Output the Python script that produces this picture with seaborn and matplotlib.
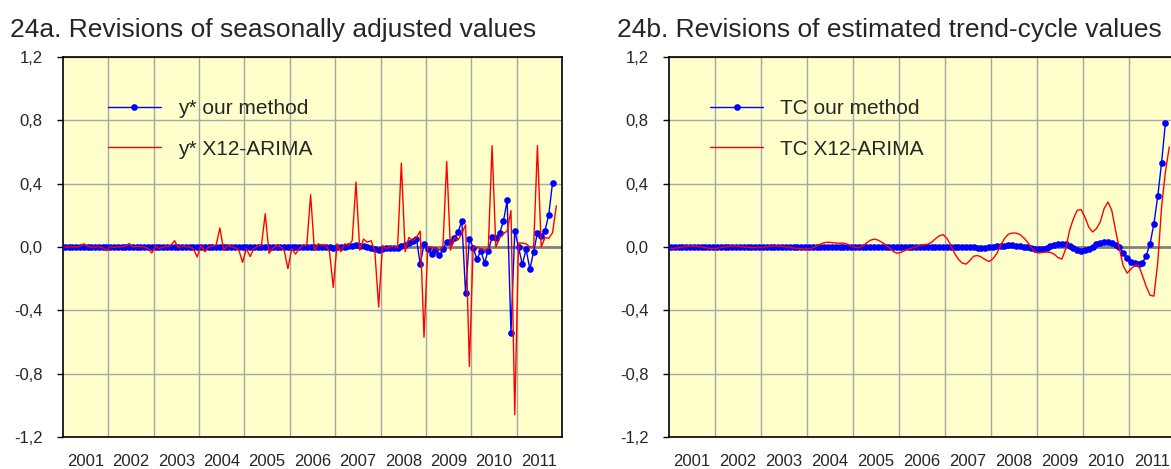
import numpy as np
import matplotlib
matplotlib.use("Agg")
import matplotlib.pyplot as plt
import seaborn as sns

# monthly revisions from Jan 2001 (one row per year)
sa_our = [
    0.000, 0.001, 0.000, -0.001, 0.000, 0.002, 0.001, 0.000, -0.001, 0.000, 0.001, 0.000,
    0.000, -0.001, 0.000, 0.001, 0.001, 0.002, 0.000, -0.001, 0.000, 0.000, 0.001, -0.001,
    0.000, 0.000, 0.001, 0.000, 0.001, 0.002, 0.000, 0.000, -0.001, 0.000, 0.000, -0.001,
    0.000, -0.001, 0.000, 0.001, 0.000, 0.002, 0.001, 0.000, 0.000, -0.001, 0.000, -0.002,
    0.000, -0.001, 0.000, 0.000, 0.001, 0.003, 0.000, -0.001, 0.000, 0.000, 0.001, -0.002,
    0.000, -0.002, 0.000, 0.001, 0.001, 0.003, 0.001, 0.000, 0.000, -0.001, -0.002, -0.004,
    -0.002, 0.000, 0.003, 0.005, 0.007, 0.010, 0.009, 0.007, 0.002, -0.006, -0.012, -0.016,
    -0.010, -0.008, -0.006, -0.006, -0.004, 0.004, 0.012, 0.025, 0.038, 0.052, -0.110, 0.020,
    -0.013, -0.045, -0.017, -0.053, -0.015, 0.030, 0.030, 0.056, 0.094, 0.164, -0.293, 0.052,
    -0.004, -0.078, -0.023, -0.099, -0.023, 0.061, 0.056, 0.088, 0.162, 0.295, -0.543, 0.100,
    0.000, -0.110, -0.015, -0.140, -0.030, 0.090, 0.067, 0.103, 0.204, 0.406,
]
sa_x12 = [
    0.000, 0.000, 0.002, 0.000, 0.004, 0.020, 0.004, 0.000, 0.000, 0.002, -0.004, -0.023,
    0.004, -0.003, 0.000, 0.002, 0.006, 0.022, 0.000, 0.004, 0.002, 0.000, -0.008, -0.038,
    0.006, -0.010, 0.000, 0.004, 0.008, 0.040, -0.004, 0.006, 0.002, 0.000, -0.012, -0.063,
    0.010, -0.030, 0.000, 0.006, 0.010, 0.120, -0.020, 0.010, 0.004, -0.006, -0.018, -0.097,
    -0.010, -0.060, -0.010, 0.006, 0.012, 0.210, -0.040, -0.010, 0.010, 0.004, -0.020, -0.137,
    -0.010, -0.045, -0.010, 0.010, 0.012, 0.330, -0.020, 0.020, 0.010, 0.014, -0.030, -0.255,
    0.020, -0.030, 0.020, 0.010, 0.040, 0.410, -0.020, 0.050, 0.030, 0.040, -0.030, -0.379,
    0.010, -0.010, 0.000, 0.005, -0.005, 0.530, -0.030, 0.060, 0.040, 0.060, 0.100, -0.570,
    0.000, 0.000, -0.010, -0.020, 0.000, 0.540, -0.020, 0.060, 0.045, 0.085, 0.140, -0.754,
    0.000, 0.000, -0.010, -0.020, -0.010, 0.640, 0.000, 0.055, 0.085, 0.100, 0.230, -1.059,
    0.025, 0.025, 0.020, 0.000, 0.000, 0.640, 0.000, 0.060, 0.055, 0.090, 0.260,
]
tc_our = [
    0.000, 0.000, 0.000, 0.000, 0.000, 0.000, 0.000, 0.000, 0.000, 0.000, 0.000, 0.000,
    0.000, 0.000, 0.000, 0.000, 0.000, 0.000, 0.000, 0.000, 0.000, 0.000, 0.000, 0.000,
    0.000, 0.000, 0.000, 0.000, 0.000, 0.000, 0.000, 0.000, 0.000, 0.000, 0.000, 0.000,
    0.000, 0.000, 0.000, 0.000, 0.000, 0.000, 0.000, 0.000, 0.000, 0.000, 0.000, 0.000,
    0.000, 0.000, 0.000, 0.000, 0.000, 0.000, 0.000, 0.000, 0.000, 0.000, 0.000, 0.000,
    0.000, 0.000, 0.000, 0.000, 0.000, 0.000, 0.000, 0.000, 0.000, 0.000, 0.000, 0.000,
    0.000, 0.001, 0.002, 0.003, 0.003, 0.002, 0.000, -0.002, -0.004, -0.005, -0.005, -0.003,
    0.000, 0.004, 0.007, 0.009, 0.010, 0.010, 0.009, 0.006, 0.002, -0.003, -0.008, -0.012,
    -0.014, -0.012, -0.006, 0.004, 0.014, 0.020, 0.022, 0.018, 0.008, -0.006, -0.018, -0.024,
    -0.022, -0.012, 0.002, 0.016, 0.026, 0.031, 0.030, 0.024, 0.014, 0.000, -0.038, -0.067,
    -0.093, -0.100, -0.105, -0.100, -0.055, 0.021, 0.147, 0.320, 0.533, 0.783,
]
tc_x12 = [
    -0.010, -0.008, -0.004, 0.000, 0.004, 0.006, 0.006, 0.004, 0.000, -0.004, -0.008, -0.010,
    -0.008, -0.004, 0.000, 0.004, 0.006, 0.006, 0.004, 0.000, -0.002, -0.004, -0.004, -0.002,
    0.000, 0.002, 0.004, 0.006, 0.006, 0.004, 0.000, -0.003, -0.006, -0.009, -0.011, -0.012,
    -0.012, -0.006, 0.006, 0.018, 0.027, 0.030, 0.028, 0.025, 0.024, 0.025, 0.018, 0.006,
    -0.003, -0.005, 0.005, 0.025, 0.042, 0.050, 0.044, 0.030, 0.014, -0.005, -0.028, -0.040,
    -0.034, -0.022, -0.012, -0.006, 0.002, 0.010, 0.015, 0.017, 0.030, 0.052, 0.070, 0.078,
    0.055, 0.012, -0.040, -0.078, -0.102, -0.108, -0.085, -0.058, -0.054, -0.064, -0.080, -0.092,
    -0.075, -0.042, 0.010, 0.053, 0.080, 0.088, 0.088, 0.080, 0.059, 0.032, 0.000, -0.032,
    -0.038, -0.034, -0.032, -0.034, -0.046, -0.067, -0.076, -0.011, 0.105, 0.179, 0.232, 0.236,
    0.189, 0.126, 0.095, 0.116, 0.158, 0.242, 0.284, 0.232, 0.105, -0.011, -0.120, -0.165,
    -0.140, -0.115, -0.115, -0.180, -0.250, -0.305, -0.310, -0.100, 0.253, 0.474, 0.632,
]
years = list(range(2001, 2012))
yticks = [-1.2, -0.8, -0.4, 0.0, 0.4, 0.8, 1.2]
ytick_labels = ["-1,2", "-0,8", "-0,4", "0,0", "0,4", "0,8", "1,2"]

sns.set_style("ticks")
plt.rcParams["font.family"] = ["Liberation Sans Narrow", "Liberation Sans", "DejaVu Sans"]

W, H = 1171, 469
fig = plt.figure(figsize=(W / 100, H / 100), dpi=100)
ax1 = fig.add_axes([63 / W, 32 / H, 499 / W, 380 / H])
ax2 = fig.add_axes([669 / W, 32 / H, 506 / W, 380 / H])


def panel(ax, ours, x12, lab_ours, lab_x12, leg_x):
    t_ours = 2001 + (np.arange(len(ours)) + 0.5) / 12
    t_x12 = 2001 + (np.arange(len(x12)) + 0.5) / 12
    ax.set_facecolor("#FFFFCC")
    ax.axhline(0, color="#808080", lw=2, zorder=1.5)
    sns.lineplot(x=t_ours, y=ours, ax=ax, color="#0000FF", lw=1, marker="o",
                 markersize=4.8, markeredgewidth=0, label=lab_ours, zorder=3)
    sns.lineplot(x=t_x12, y=x12, ax=ax, color="#FF0000", lw=1, label=lab_x12, zorder=4)

    ax.set_xlim(2001, 2012)
    ax.set_ylim(-1.2, 1.2)
    ax.set_xticks(range(2002, 2012))
    ax.set_xticklabels([])
    ax.set_xticks([y + 0.5 for y in years], minor=True)
    ax.set_xticklabels([str(y) for y in years], minor=True, fontsize=12)
    ax.tick_params(axis="x", which="both", length=0, pad=12)
    ax.set_yticks(yticks)
    ax.set_yticklabels(ytick_labels, fontsize=12)
    ax.tick_params(axis="y", length=4.5, width=1, pad=10, color="black")
    ax.grid(True, which="major", color="#A6A6A6", lw=1)
    ax.set_axisbelow(True)
    for s in ax.spines.values():
        s.set_color("black")
        s.set_linewidth(1.2)
    ax.set_xlabel("")
    ax.set_ylabel("")
    ax.legend(loc="upper left", bbox_to_anchor=(leg_x, 0.89), frameon=False,
              prop={"family": "Liberation Sans", "size": 15}, handlelength=2.55,
              handletextpad=0.8, labelspacing=1.05, borderpad=0, borderaxespad=0)


panel(ax1, sa_our, sa_x12, "y* our method", "y* X12-ARIMA", 0.09)
panel(ax2, tc_our, tc_x12, "TC our method", "TC X12-ARIMA", 0.081)

fig.text(10 / W, 1 - 37 / H, "24a. Revisions of seasonally adjusted values",
         fontsize=19, family="Liberation Sans", va="baseline")
fig.text(617 / W, 1 - 37 / H, "24b. Revisions of estimated trend-cycle values",
         fontsize=19, family="Liberation Sans", va="baseline")

fig.savefig("out.png", dpi=100)
